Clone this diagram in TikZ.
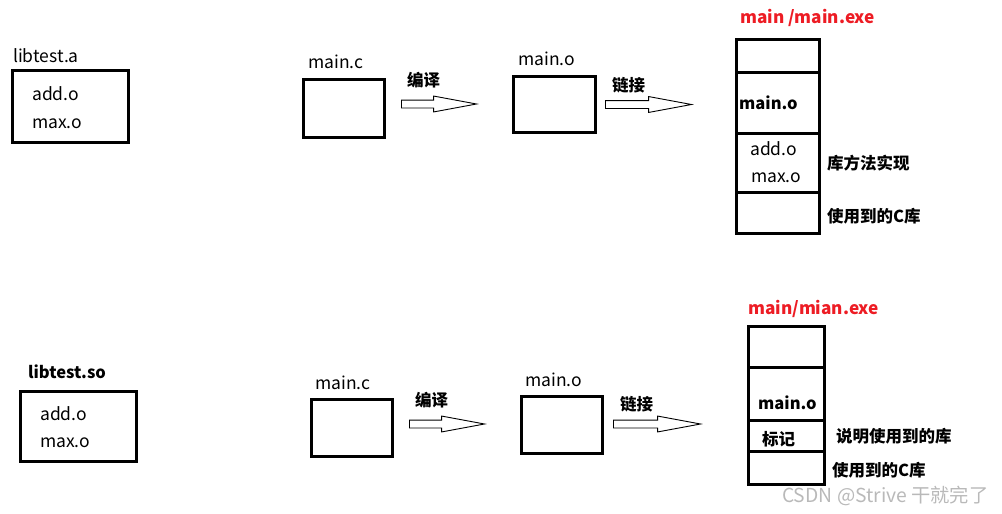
\documentclass[tikz,border=0pt]{standalone}
\usepackage{fontspec}
\setmainfont{Noto Sans CJK SC}
\usetikzlibrary{positioning,shapes.arrows}
\definecolor{exered}{RGB}{237,28,36}
\definecolor{markgray}{RGB}{185,185,185}

\begin{document}
\begin{tikzpicture}[
    x=1pt, y=-1pt,
    box/.style={draw, line width=3pt, inner sep=0pt, outer sep=0pt},
    txt/.style={anchor=west, inner sep=0pt, font=\fontsize{17.5}{20}\selectfont},
    btxt/.style={anchor=west, inner sep=0pt, font=\fontsize{16.5}{19}\selectfont\bfseries},
    flowarrow/.style={single arrow, draw, line width=0.9pt, single arrow head extend=4pt, single arrow tip angle=21, inner xsep=0pt, inner ysep=3.5pt, outer sep=0pt, anchor=tail}
]
\useasboundingbox (0,0) rectangle (1002,514);

% Static library - top row
\node[box, minimum width=116pt, minimum height=72pt] (liba) at (70.5,106.5) {};
\node[txt] (libaname) at (13,56) {libtest.a};
\node[txt] (libaadd) at (32,94) {add.o};
\node[txt] (libamax) at (32,124) {max.o};

% Compile and link
\node[box, minimum width=81pt, minimum height=58pt] (mainc1) at (344,108.5) {};
\node[txt] (mainc1name) at (308,62) {main.c};
\node[flowarrow, minimum height=75pt] (comp1) at (401.5,104) {};
\node[btxt] (comp1name) at (407,80) {编译};
\node[box, minimum width=82pt, minimum height=56pt] (maino1) at (554.5,104.5) {};
\node[txt] (maino1name) at (518,59) {main.o};
\node[flowarrow, minimum height=86pt] (link1) at (605.5,104.5) {};
\node[btxt] (link1name) at (612,85) {链接};

% Executable layout
\node[btxt, text=exered, font=\fontsize{17.2}{20}\selectfont\bfseries] (exe1name) at (740,18) {main /main.exe};
\node[box, minimum width=83pt, minimum height=32.5pt] (exe1a) at (778,55.75) {};
\node[box, minimum width=83pt, minimum height=61pt, below=0pt of exe1a] (exe1b) {};
\node[box, minimum width=83pt, minimum height=59pt, below=0pt of exe1b] (exe1c) {};
\node[box, minimum width=83pt, minimum height=41.5pt, below=0pt of exe1c] (exe1d) {};
\node[btxt] (exe1main) at (739,103) {main.o};
\node[txt] (exe1add) at (750,149) {add.o};
\node[txt] (exe1max) at (751,178) {max.o};
\node[btxt] (exe1lib) at (827,163) {库方法实现};
\node[btxt] (exe1clib) at (827,216) {使用到的C库};

% Shared library - bottom row
\node[box, minimum width=116pt, minimum height=70pt] (libso) at (78.5,426.5) {};
\node[btxt] (libsoname) at (28,372) {libtest.so};
\node[txt] (libsoadd) at (40,414) {add.o};
\node[txt] (libsomax) at (40,443) {max.o};

% Compile and link
\node[box, minimum width=81pt, minimum height=57pt] (mainc2) at (352,428) {};
\node[txt] (mainc2name) at (315,383) {main.c};
\node[flowarrow, minimum height=75pt] (comp2) at (409.5,424) {};
\node[btxt] (comp2name) at (415,400) {编译};
\node[box, minimum width=81pt, minimum height=57pt] (maino2) at (562,425) {};
\node[txt] (maino2name) at (525,380) {main.o};
\node[flowarrow, minimum height=87pt] (link2) at (613.5,424) {};
\node[btxt] (link2name) at (620,404) {链接};

% Executable layout
\node[btxt, text=exered, font=\fontsize{17.2}{20}\selectfont\bfseries] (exe2name) at (748,309) {main/mian.exe};
\node[box, minimum width=76pt, minimum height=40.5pt] (exe2a) at (786.5,346.75) {};
\node[box, minimum width=76pt, minimum height=53pt, below=0pt of exe2a] (exe2b) {};
\node[box, minimum width=76pt, minimum height=31pt, below=0pt of exe2b] (exe2c) {};
\node[box, minimum width=76pt, minimum height=33.5pt, below=0pt of exe2c] (exe2d) {};
\node[btxt] (exe2main) at (758,403) {main.o};
\node[btxt] (exe2mark) at (762,439) {标记};
\node[btxt] (exe2note) at (836,436) {说明使用到的库};
\node[btxt] (exe2clib) at (832,470) {使用到的C库};

\node[anchor=west, inner sep=0pt, text=markgray, font=\fontsize{19.3}{22}\selectfont] (mark) at (782,496) {CSDN @Strive 干就完了};

\end{tikzpicture}
\end{document}
